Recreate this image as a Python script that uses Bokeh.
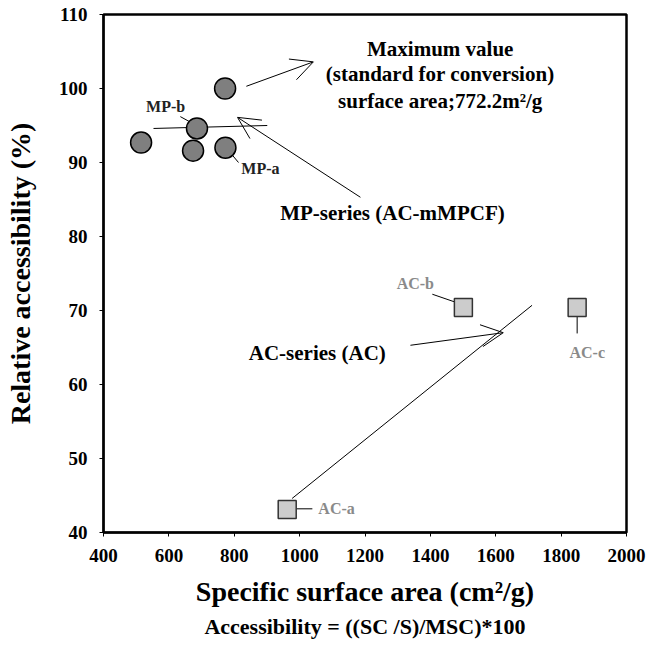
from bokeh.plotting import figure
from bokeh.models import Arrow, OpenHead, Title, Range1d, FixedTicker
from bokeh.core.properties import value
from bokeh.embed import file_html
from bokeh.resources import INLINE

# ---- data ----
mp_x = [515, 674, 686, 773, 772]
mp_y = [92.7, 91.6, 94.6, 92.0, 100.0]
ac_x = [962, 1501, 1849]
ac_y = [43.1, 70.4, 70.4]
x_ticks = [400, 600, 800, 1000, 1200, 1400, 1600, 1800, 2000]
y_ticks = [40, 50, 60, 70, 80, 90, 100, 110]

max_lines = ["Maximum value", "(standard for conversion)", "surface area;772.2m\u00b2/g"]
max_x = [1430, 1430, 1430]
max_y = [105.4, 101.9, 98.3]

mp_lab = ["MP-b", "MP-a"]
mp_lab_x = [590, 880]
mp_lab_y = [97.6, 89.2]
ac_lab = ["AC-a", "AC-b", "AC-c"]
ac_lab_x = [1113, 1354, 1880]
ac_lab_y = [43.2, 73.6, 64.3]

series_lab = ["MP-series (AC-mMPCF)", "AC-series (AC)"]
series_x = [1284, 1054]
series_y = [83.2, 64.3]

# leader lines (no heads)
lead_x0 = [635, 779, 1406, 1849, 990, 553, 977]
lead_y0 = [96.2, 91.8, 72.2, 70.3, 43.2, 94.6, 44.6]
lead_x1 = [697, 813, 1498, 1849, 1039, 901, 1711]
lead_y1 = [94.7, 90.0, 70.8, 66.9, 43.2, 95.0, 70.7]

# arrows with open heads
arr_x0 = [837, 1186, 1339]
arr_y0 = [100.3, 85.3, 65.3]
arr_x1 = [1042, 810, 1623]
arr_y1 = [103.6, 96.1, 67.0]

FONT = "Liberation Serif"

p = figure(width=647, height=661, x_range=Range1d(400, 2000), y_range=Range1d(40, 110),
           output_backend="svg", toolbar_location=None,
           min_border_left=103, min_border_right=21, min_border_top=14, min_border_bottom=129)
p.grid.visible = False
p.outline_line_color = "black"
p.outline_line_width = 2.5
p.background_fill_color = "white"
p.border_fill_color = "white"

for ax in (p.xaxis[0], p.yaxis[0]):
    ax.axis_line_width = 2
    ax.axis_line_color = "black"
    ax.major_tick_in = 0
    ax.major_tick_out = 4
    ax.minor_tick_line_color = None
    ax.major_label_text_font = FONT
    ax.major_label_text_font_style = "bold"
    ax.major_label_text_font_size = "19px"
    ax.major_label_text_color = "black"
    ax.axis_label_text_font = FONT
    ax.axis_label_text_font_style = "bold"
    ax.axis_label_text_font_size = "28px"
    ax.axis_label_text_color = "black"

p.xaxis.ticker = FixedTicker(ticks=x_ticks)
p.yaxis.ticker = FixedTicker(ticks=y_ticks)
p.xaxis.major_label_standoff = 12
p.yaxis.major_label_standoff = 12
p.xaxis.axis_label = "Specific surface area (cm\u00b2/g)"
p.yaxis.axis_label = "Relative accessibility (%)"
p.xaxis.axis_label_standoff = 11
p.yaxis.axis_label_standoff = 20

# leader lines
p.segment(lead_x0, lead_y0, lead_x1, lead_y1, line_color="black", line_width=1)

# arrows
for x0, y0, x1, y1 in zip(arr_x0, arr_y0, arr_x1, arr_y1):
    p.add_layout(Arrow(end=OpenHead(size=22, line_width=1, line_color="black"),
                       x_start=x0, y_start=y0, x_end=x1, y_end=y1,
                       line_width=1, line_color="black"))

# markers
p.scatter(mp_x, mp_y, marker="circle", size=21, fill_color="#7f7f7f",
          line_color="black", line_width=1.5)
p.scatter(ac_x, ac_y, marker="square", size=18, fill_color="#cccccc",
          line_color="#333333", line_width=1.5)

# texts
p.text(max_x, max_y, text=max_lines, text_font=value(FONT), text_font_style="bold",
       text_font_size="21px", text_align="center", text_baseline="middle", text_color="black")
p.text(series_x, series_y, text=series_lab, text_font=value(FONT), text_font_style="bold",
       text_font_size="21px", text_align="center", text_baseline="middle", text_color="black")
p.text(mp_lab_x, mp_lab_y, text=mp_lab, text_font=value(FONT), text_font_style="bold",
       text_font_size="16px", text_align="center", text_baseline="middle", text_color="#222222")
p.text(ac_lab_x, ac_lab_y, text=ac_lab, text_font=value(FONT), text_font_style="bold",
       text_font_size="16px", text_align="center", text_baseline="middle", text_color="#8a8a8a")

p.add_layout(Title(text="Accessibility = ((SC /S)/MSC)*100", align="center",
                   text_font=FONT, text_font_style="bold", text_font_size="22px",
                   text_color="black", standoff=4), "below")

open("out.html", "w").write(file_html(p, INLINE))
